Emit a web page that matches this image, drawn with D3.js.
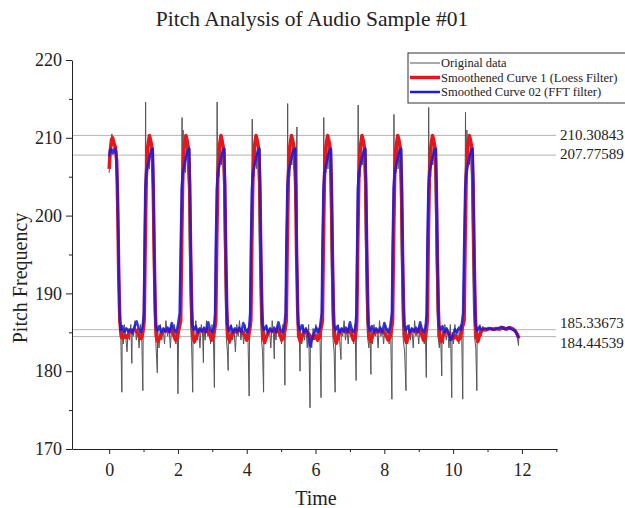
<!DOCTYPE html>
<html>
<head>
<meta charset="utf-8">
<script src="https://cdn.jsdelivr.net/npm/d3@7"></script>
<style>
  body { margin: 0; background: #fff; }
  text { font-family: "Liberation Serif", "Times New Roman", serif; fill: #222; }
  .axis path, .axis line { stroke: #222; }
</style>
</head>
<body>
<script>
var width = 625,
    height = 508;

// values: [time, pitch]
var originalData = [
  [0.00,205.5],[0.02,207],[0.04,209],[0.06,208],[0.08,210.5],[0.10,209],[0.13,210],[0.16,208],[0.19,209],[0.22,206],[0.25,203],[0.28,193],[0.31,186],[0.34,184],[0.37,177.3],[0.38,185.5],[0.41,183.5],[0.44,186],[0.48,184.5],[0.52,182.5],[0.55,185.5],[0.59,184],[0.63,186],[0.66,181],[0.67,185],[0.71,184.5],[0.75,186.5],[0.79,184],[0.83,185.5],[0.87,183],[0.91,186],[0.95,184],[0.98,177.5],[0.99,185.5],[1.02,186],
  [1.05,205],[1.06,214.6],[1.07,203],[1.09,207.5],[1.11,204],[1.14,209],[1.17,206],[1.20,210],[1.23,207],[1.26,203],[1.29,193],[1.32,186],[1.36,183.5],[1.40,179.8],[1.41,185.5],[1.45,183],[1.49,186],[1.53,184],[1.57,185.5],[1.61,183.5],[1.65,186.5],[1.70,184.5],[1.74,185.5],[1.78,183],[1.82,186],[1.86,184.5],[1.90,186],[1.94,183.5],[1.98,185],[2.00,177.1],[2.02,185],[2.08,186],
  [2.11,204],[2.12,212.6],[2.13,203],[2.15,211],[2.16,204],[2.19,208.5],[2.22,205.5],[2.25,209.5],[2.28,206],[2.31,203],[2.34,192],[2.37,186],[2.40,183],[2.43,177.3],[2.44,186],[2.48,183.5],[2.52,186.5],[2.56,184],[2.60,185.5],[2.64,183],[2.68,186],[2.72,184.5],[2.74,181.1],[2.75,185.5],[2.79,184],[2.83,186.5],[2.87,184.5],[2.91,185.5],[2.95,183.5],[2.99,186],[3.03,184.5],[3.06,177.9],[3.07,185.5],[3.10,186],
  [3.13,205],[3.14,214.6],[3.15,203],[3.17,208],[3.20,205],[3.23,209.5],[3.26,206.5],[3.29,209],[3.32,205],[3.35,196],[3.38,188],[3.41,184],[3.44,182.5],[3.46,180.1],[3.47,186],[3.51,183.5],[3.55,186],[3.59,184],[3.63,185.5],[3.67,182.5],[3.71,186],[3.75,184.5],[3.79,186.5],[3.83,184],[3.87,185.5],[3.91,183.5],[3.95,186],[3.99,184.5],[4.03,185.5],[4.07,176.8],[4.08,185],[4.12,186],
  [4.15,205.5],[4.16,212.4],[4.17,204],[4.19,208.5],[4.22,205],[4.25,209.5],[4.28,206],[4.31,209],[4.34,204],[4.37,194],[4.40,187],[4.43,184],[4.46,182.5],[4.49,177.3],[4.50,185.5],[4.54,183.5],[4.58,186],[4.62,184.5],[4.66,185.5],[4.70,183],[4.74,186.5],[4.78,184.5],[4.80,181.6],[4.81,185.5],[4.85,184],[4.89,186],[4.93,184.5],[4.97,185.5],[5.01,183.5],[5.05,186],[5.09,184.5],[5.11,178.2],[5.12,185.5],[5.15,186],
  [5.18,205],[5.19,214.4],[5.20,203],[5.22,208],[5.25,205],[5.28,209.5],[5.31,206.5],[5.34,209],[5.37,206],[5.40,208],[5.43,204],[5.46,211.4],[5.47,196],[5.50,187],[5.53,184],[5.55,180],[5.56,185.5],[5.60,183.5],[5.64,186],[5.68,184],[5.72,185.5],[5.76,183],[5.80,186],[5.84,175.3],[5.85,184.5],[5.89,183],[5.93,185.5],[5.97,184],[6.01,186],[6.05,184.5],[6.09,185.5],[6.13,184],[6.16,176.6],[6.17,185.5],[6.20,186],
  [6.23,205],[6.24,212.6],[6.25,204],[6.27,208.5],[6.30,205.5],[6.33,209.5],[6.36,206],[6.39,209],[6.42,204],[6.45,195],[6.48,187],[6.51,184],[6.54,182.5],[6.57,177.3],[6.58,185.5],[6.62,183.5],[6.66,186],[6.70,184],[6.74,181.5],[6.75,185.5],[6.79,184.5],[6.83,186.5],[6.87,184],[6.91,185.5],[6.95,183.5],[6.99,186],[7.03,184.5],[7.07,185.5],[7.11,183.5],[7.15,186],[7.18,178.8],[7.19,185.5],[7.21,186],
  [7.23,205],[7.24,214.2],[7.25,203],[7.27,208],[7.30,205],[7.33,209.5],[7.36,206.5],[7.39,209],[7.42,205],[7.45,196],[7.48,188],[7.51,184.5],[7.55,183],[7.58,185.5],[7.61,179.6],[7.62,185.5],[7.66,183.5],[7.70,186],[7.74,184.5],[7.78,185.5],[7.82,183],[7.86,186.5],[7.90,184.5],[7.94,185.5],[7.98,183.5],[8.02,186],[8.06,184.5],[8.10,185.5],[8.14,183.5],[8.18,186],[8.22,176.4],[8.23,185.5],[8.25,186],
  [8.27,205],[8.28,213],[8.29,204],[8.31,208.5],[8.34,205.5],[8.37,209.5],[8.40,206],[8.43,209],[8.46,204],[8.49,195],[8.52,187],[8.55,184],[8.59,182.5],[8.63,177.5],[8.64,185.5],[8.68,183.5],[8.72,186],[8.76,184],[8.80,185.5],[8.84,183],[8.88,186.5],[8.92,184.5],[8.96,185.5],[9.00,183.5],[9.04,186],[9.08,184.5],[9.12,185.5],[9.16,183.5],[9.19,186],[9.22,179.2],[9.23,185.5],[9.26,186],
  [9.28,205],[9.29,213.9],[9.30,203],[9.32,208],[9.35,205],[9.38,209.5],[9.41,206.5],[9.44,209],[9.47,205],[9.50,196],[9.53,188],[9.56,184.5],[9.60,183],[9.63,185.5],[9.67,179.4],[9.68,185.5],[9.72,183.5],[9.76,186],[9.80,184],[9.84,185.5],[9.88,183],[9.92,186],[9.96,176.6],[9.97,185],[10.01,183.5],[10.05,186],[10.09,184.5],[10.13,185.5],[10.17,183.5],[10.21,186],[10.25,184.5],[10.28,176.4],[10.29,185.5],[10.32,186],
  [10.35,205],[10.36,213.3],[10.37,204],[10.39,208],[10.40,211],[10.41,205],[10.44,209.5],[10.47,206.5],[10.50,209],[10.53,205],[10.56,196],[10.59,188],[10.62,184.5],[10.66,183],[10.69,177.5],[10.70,185.5],[10.74,184],[10.78,186],[10.82,184.5],[10.86,185.8],[10.92,185.2],[11.00,185.6],[11.10,185.3],[11.20,185.5],[11.30,185.3],[11.40,185.6],[11.50,185.4],[11.60,185.7],[11.70,185.5],[11.80,185.2],[11.86,184.6],[11.90,183.3],[11.91,184.3]
];

var loessData = [
  [0.00,206.0],[0.03,208.2],[0.07,209.8],[0.10,210.0],[0.14,209.3],[0.18,208.8],[0.22,207],[0.25,201],[0.28,192],[0.31,186.5],[0.35,184.5],[0.40,184.2],[0.46,184.6],[0.52,184.3],[0.58,185.0],[0.66,185.2],[0.74,185.4],[0.82,185.0],[0.88,184.4],[0.93,184.2],[0.98,185.0],
  [1.02,186.5],[1.05,197],[1.08,205],[1.12,208.8],[1.17,210.3],[1.21,209.6],[1.25,208.5],[1.28,204],[1.31,195],[1.34,188],[1.37,184.5],[1.42,183.8],[1.48,184.4],[1.55,185.0],[1.63,185.3],[1.71,185.1],[1.79,185.4],[1.86,184.8],[1.93,184.0],[1.98,184.3],[2.03,185.5],
  [2.08,186.5],[2.11,197],[2.14,205],[2.18,208.8],[2.23,210.3],[2.27,209.6],[2.31,208.5],[2.34,204],[2.37,195],[2.40,188],[2.43,184.5],[2.48,183.8],[2.54,184.5],[2.61,185.1],[2.69,185.3],[2.77,185.0],[2.85,185.4],[2.92,184.8],[2.98,184.0],[3.03,184.4],[3.07,185.5],
  [3.10,186.5],[3.13,197],[3.16,205],[3.20,208.8],[3.25,210.3],[3.29,209.5],[3.33,208.4],[3.36,204],[3.39,195],[3.42,188],[3.45,184.5],[3.50,183.9],[3.56,184.6],[3.63,185.2],[3.71,185.0],[3.79,185.3],[3.87,185.1],[3.94,184.6],[4.00,184.0],[4.05,184.4],[4.09,185.5],
  [4.12,186.5],[4.15,197],[4.18,205],[4.22,208.8],[4.27,210.3],[4.31,209.6],[4.35,208.5],[4.38,204],[4.41,195],[4.44,188],[4.47,184.5],[4.52,183.7],[4.58,184.5],[4.65,185.1],[4.73,185.3],[4.81,185.0],[4.89,185.4],[4.96,184.8],[5.02,184.0],[5.07,184.3],[5.12,185.5],
  [5.15,186.5],[5.18,197],[5.21,205],[5.25,208.8],[5.30,210.3],[5.34,209.6],[5.38,208.6],[5.42,204],[5.45,195],[5.48,188],[5.51,184.5],[5.56,183.8],[5.62,184.6],[5.69,185.2],[5.77,185.0],[5.85,184.5],[5.92,184.2],[5.99,184.6],[6.06,184.0],[6.11,184.3],[6.16,185.5],
  [6.20,186.5],[6.23,197],[6.26,205],[6.30,208.8],[6.35,210.3],[6.39,209.6],[6.43,208.5],[6.46,204],[6.49,195],[6.52,188],[6.55,184.5],[6.60,183.6],[6.66,184.5],[6.73,185.2],[6.81,185.3],[6.89,185.0],[6.97,185.4],[7.04,184.8],[7.10,184.0],[7.15,184.3],[7.19,185.5],
  [7.20,186.5],[7.23,197],[7.26,205],[7.30,208.8],[7.35,210.3],[7.39,209.6],[7.43,208.5],[7.46,204],[7.49,195],[7.52,188],[7.55,184.5],[7.60,183.8],[7.66,184.6],[7.73,185.2],[7.81,185.0],[7.89,185.3],[7.97,185.1],[8.04,184.7],[8.11,184.0],[8.16,184.3],[8.21,185.5],
  [8.24,186.5],[8.27,197],[8.30,205],[8.34,208.8],[8.39,210.3],[8.43,209.6],[8.47,208.5],[8.50,204],[8.53,195],[8.56,188],[8.59,184.5],[8.64,183.7],[8.70,184.5],[8.77,185.2],[8.85,185.3],[8.93,185.0],[9.01,185.4],[9.08,184.8],[9.14,184.0],[9.19,184.3],[9.23,185.5],
  [9.25,186.5],[9.28,197],[9.31,205],[9.35,208.8],[9.40,210.3],[9.44,209.6],[9.48,208.5],[9.51,204],[9.54,195],[9.57,188],[9.60,184.5],[9.65,183.8],[9.71,184.6],[9.78,185.2],[9.86,185.0],[9.94,184.4],[10.01,184.2],[10.08,184.6],[10.15,184.0],[10.21,184.3],[10.26,185.5],
  [10.32,186.5],[10.35,197],[10.38,205],[10.42,208.8],[10.47,210.3],[10.51,209.6],[10.55,208.5],[10.58,204],[10.61,195],[10.64,188],[10.67,184.5],[10.72,183.8],[10.78,184.8],[10.86,185.4],[10.95,185.3],[11.05,185.5],[11.15,185.4],[11.25,185.5],[11.35,185.4],[11.45,185.6],[11.55,185.4],[11.65,185.6],[11.75,185.4],[11.82,185.1],[11.88,184.6],[11.91,184.2]
];

var fftData = [
  [0.00,207.6],[0.03,208.5],[0.07,208.5],[0.11,208.0],[0.16,208.6],[0.20,208.3],[0.24,204],[0.27,196],[0.30,188],[0.33,185.3],[0.38,185.8],[0.44,185.0],[0.50,185.5],[0.56,185.1],[0.62,185.4],[0.68,184.9],[0.74,185.8],[0.80,186.4],[0.86,185.5],[0.92,185.0],[0.97,185.6],[1.01,187.5],[1.03,196],[1.05,203.5],
  [1.08,205.5],[1.13,206.6],[1.18,207.6],[1.23,208.4],[1.27,208.6],[1.29,203],[1.32,193],[1.35,186],[1.40,185.2],[1.46,185.8],[1.52,185.0],[1.58,185.5],[1.64,185.1],[1.70,185.6],[1.76,185.0],[1.82,186.2],[1.88,185.4],[1.94,185.0],[1.99,185.7],[2.05,187.5],[2.08,196],[2.11,203.5],
  [2.14,205.5],[2.19,206.6],[2.24,207.6],[2.29,208.4],[2.33,208.6],[2.35,203],[2.38,193],[2.41,186],[2.46,185.3],[2.52,185.8],[2.58,185.0],[2.64,185.5],[2.70,185.1],[2.76,185.6],[2.82,185.0],[2.88,186.3],[2.94,185.3],[3.00,185.0],[3.05,185.7],[3.08,187.5],[3.10,196],[3.13,203.5],
  [3.16,205.5],[3.21,206.6],[3.26,207.6],[3.31,208.4],[3.35,208.6],[3.37,203],[3.40,193],[3.43,186],[3.48,185.2],[3.54,185.8],[3.60,185.0],[3.66,185.5],[3.72,185.1],[3.78,185.6],[3.84,185.0],[3.90,186.2],[3.96,185.4],[4.02,185.0],[4.07,185.7],[4.10,187.5],[4.12,196],[4.15,203.5],
  [4.18,205.5],[4.23,206.6],[4.28,207.6],[4.33,208.4],[4.37,208.6],[4.39,203],[4.42,193],[4.45,186],[4.50,185.3],[4.56,185.8],[4.62,185.0],[4.68,185.5],[4.74,185.1],[4.80,185.6],[4.86,185.0],[4.92,186.3],[4.98,185.3],[5.04,185.0],[5.09,185.7],[5.13,187.5],[5.15,196],[5.18,203.5],
  [5.21,205.5],[5.26,206.6],[5.31,207.6],[5.36,208.4],[5.41,208.6],[5.43,203],[5.46,193],[5.49,186],[5.54,185.3],[5.60,185.9],[5.66,185.0],[5.72,185.5],[5.78,184.8],[5.84,183.2],[5.90,184.2],[5.96,185.0],[6.02,185.6],[6.08,185.0],[6.13,185.7],[6.18,187.5],[6.20,196],[6.23,203.5],
  [6.26,205.5],[6.31,206.6],[6.36,207.6],[6.41,208.4],[6.45,208.6],[6.47,203],[6.50,193],[6.53,186],[6.58,185.3],[6.64,185.8],[6.70,185.0],[6.76,185.5],[6.82,185.1],[6.88,185.6],[6.94,185.0],[7.00,186.3],[7.06,185.3],[7.12,185.0],[7.16,185.7],[7.19,187.5],[7.21,196],[7.23,203.5],
  [7.26,205.5],[7.31,206.6],[7.36,207.6],[7.41,208.4],[7.45,208.6],[7.47,203],[7.50,193],[7.53,186],[7.58,185.2],[7.64,185.8],[7.70,185.0],[7.76,185.5],[7.82,185.1],[7.88,185.6],[7.94,185.0],[8.00,186.2],[8.06,185.4],[8.12,185.0],[8.17,185.7],[8.22,187.5],[8.24,196],[8.27,203.5],
  [8.30,205.5],[8.35,206.6],[8.40,207.6],[8.45,208.4],[8.49,208.6],[8.51,203],[8.54,193],[8.57,186],[8.62,185.3],[8.68,185.8],[8.74,185.0],[8.80,185.5],[8.86,185.1],[8.92,185.6],[8.98,185.0],[9.04,186.3],[9.10,185.3],[9.16,185.0],[9.20,185.7],[9.23,187.5],[9.25,196],[9.28,203.5],
  [9.31,205.5],[9.36,206.6],[9.41,207.6],[9.46,208.4],[9.50,208.6],[9.52,203],[9.55,193],[9.58,186],[9.63,185.3],[9.69,185.8],[9.75,185.0],[9.81,185.5],[9.87,184.8],[9.93,184.0],[9.99,184.5],[10.05,185.4],[10.11,185.0],[10.17,185.6],[10.23,185.3],[10.29,187.5],[10.32,196],[10.35,203.5],
  [10.38,205.5],[10.43,206.6],[10.48,207.6],[10.53,208.4],[10.57,208.6],[10.59,203],[10.62,193],[10.65,186],[10.70,185.2],[10.76,185.7],[10.84,185.3],[10.92,185.5],[11.00,185.4],[11.10,185.5],[11.20,185.3],[11.30,185.5],[11.40,185.7],[11.50,185.4],[11.60,185.6],[11.70,185.4],[11.80,185.2],[11.86,184.7],[11.90,184.3]
];

var refLines = [210.30843, 207.77589, 185.33673, 184.44539];
var refLabelShift = [-1, -1, -7, 6];

var xMajor = [0, 2, 4, 6, 8, 10, 12],
    xMinor = [1, 3, 5, 7, 9, 11, 13];
var yMajor = [170, 180, 190, 200, 210, 220],
    yMinor = [175, 185, 195, 205, 215];

var legendNames = ["Original data", "Smoothened Curve 1 (Loess Filter)", "Smoothed Curve 02 (FFT filter)"];

var x = d3.scaleLinear().domain([-1.08, 13.02]).range([72, 557]);
var y = d3.scaleLinear().domain([170, 220]).range([449, 60]);

var svg = d3.select("body")
    .append("svg")
    .attr("width", width)
    .attr("height", height);

svg.append("text")
    .attr("x", 312)
    .attr("y", 26)
    .attr("text-anchor", "middle")
    .style("font-size", "21.5px")
    .text("Pitch Analysis of Audio Sample #01");

// reference lines
svg.selectAll("line.ref")
    .data(refLines)
    .enter()
    .append("line")
    .attr("class", "ref")
    .attr("x1", 72)
    .attr("x2", 556)
    .attr("y1", function(d) { return y(d); })
    .attr("y2", function(d) { return y(d); })
    .style("stroke", "#b4b4b4")
    .style("stroke-width", 1);

svg.selectAll("text.ref-label")
    .data(refLines)
    .enter()
    .append("text")
    .attr("class", "ref-label")
    .attr("x", 560)
    .attr("y", function(d, i) { return y(d) + refLabelShift[i]; })
    .attr("dy", "0.35em")
    .style("font-size", "15px")
    .text(function(d) { return d3.format(".5f")(d); });

var line = d3.line()
    .x(function(d) { return x(d[0]); })
    .y(function(d) { return y(d[1]); });

svg.append("path")
    .datum(originalData)
    .attr("d", line)
    .style("fill", "none")
    .style("stroke", "#555")
    .style("stroke-width", 1);

svg.append("path")
    .datum(loessData)
    .attr("d", line)
    .style("fill", "none")
    .style("stroke", "#e8161b")
    .style("stroke-width", 3.5)
    .style("stroke-linejoin", "round");

svg.append("path")
    .datum(fftData)
    .attr("d", line)
    .style("fill", "none")
    .style("stroke", "#1a1ae0")
    .style("stroke-opacity", 0.88)
    .style("stroke-width", 2.5)
    .style("stroke-linejoin", "round");

// axes
var xAxis = svg.append("g")
    .attr("class", "axis")
    .attr("transform", "translate(0,449)")
    .call(d3.axisBottom(x).tickValues(xMajor).tickSize(5).tickSizeOuter(0).tickPadding(9));
xAxis.selectAll("text").style("font-size", "18px");

svg.append("g")
    .attr("class", "axis")
    .attr("transform", "translate(0,449)")
    .call(d3.axisBottom(x).tickValues(xMinor).tickSize(3).tickFormat(""))
    .select(".domain").remove();

var yAxis = svg.append("g")
    .attr("class", "axis")
    .attr("transform", "translate(72,0)")
    .call(d3.axisLeft(y).tickValues(yMajor).tickSize(6).tickSizeOuter(0).tickPadding(4));
yAxis.selectAll("text").style("font-size", "18px");

svg.append("g")
    .attr("class", "axis")
    .attr("transform", "translate(72,0)")
    .call(d3.axisLeft(y).tickValues(yMinor).tickSize(3).tickFormat(""))
    .select(".domain").remove();

svg.selectAll(".axis text").style("font-family", "'Liberation Serif', serif").style("fill", "#222");

svg.append("text")
    .attr("x", 316)
    .attr("y", 505)
    .attr("text-anchor", "middle")
    .style("font-size", "20px")
    .text("Time");

svg.append("text")
    .attr("transform", "translate(27,278) rotate(-90)")
    .attr("text-anchor", "middle")
    .style("font-size", "20px")
    .text("Pitch Frequency");

// legend
var legend = svg.append("g").attr("transform", "translate(408,53)");
legend.append("rect")
    .attr("width", 240)
    .attr("height", 50)
    .style("fill", "#fff")
    .style("stroke", "#333")
    .style("stroke-width", 1);

var legendStyles = [["#555", 1], ["#e8161b", 3.5], ["#1a1ae0", 2.5]];
var rows = legend.selectAll("g.row")
    .data(legendNames)
    .enter()
    .append("g")
    .attr("class", "row")
    .attr("transform", function(d, i) { return "translate(0," + (10 + i * 14.5) + ")"; });

rows.append("line")
    .attr("x1", 2)
    .attr("x2", 32)
    .style("stroke", function(d, i) { return legendStyles[i][0]; })
    .style("stroke-width", function(d, i) { return legendStyles[i][1]; });

rows.append("text")
    .attr("x", 33)
    .attr("dy", "0.35em")
    .style("font-size", "12.5px")
    .text(function(d) { return d; });
</script>
</body>
</html>
